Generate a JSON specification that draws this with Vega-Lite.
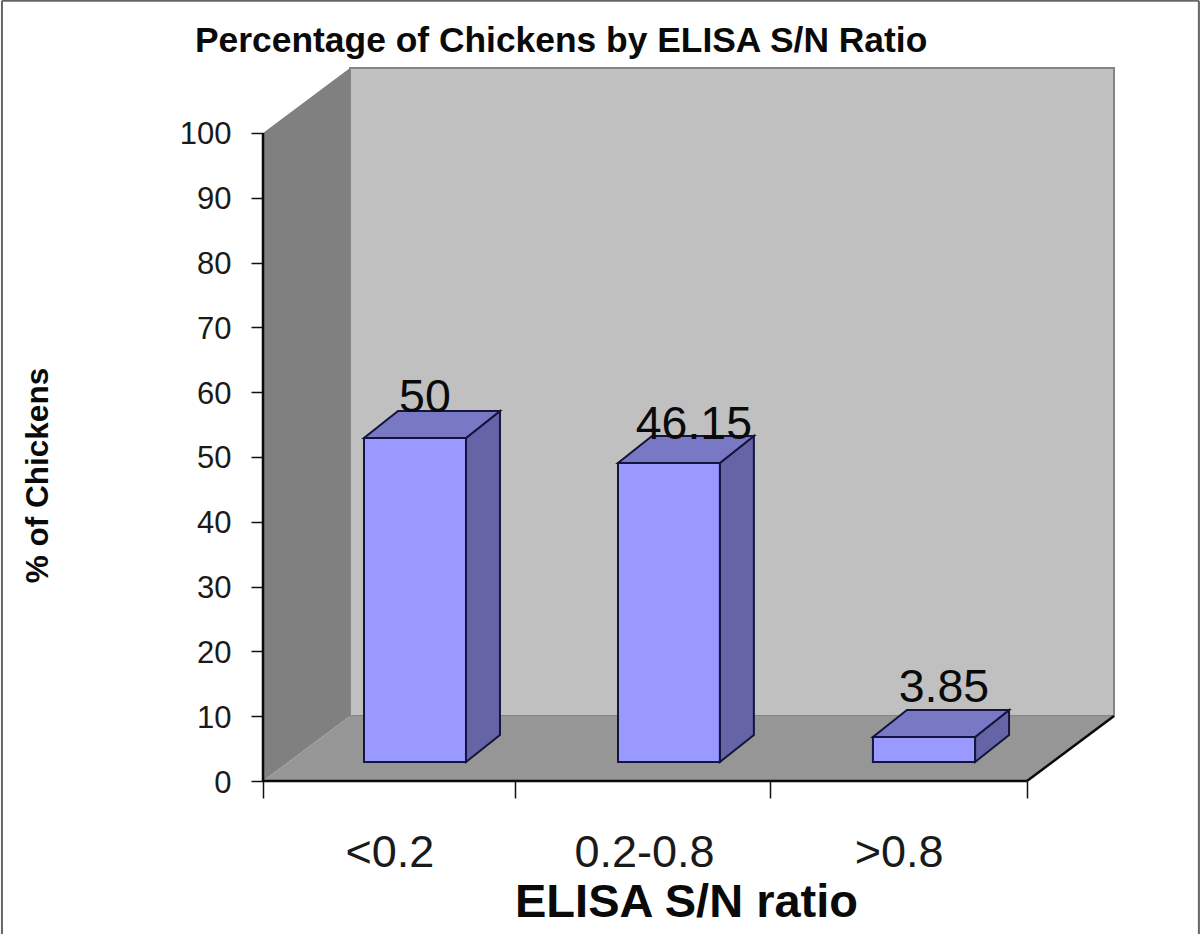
{
"$schema":"https://vega.github.io/schema/vega-lite/v6.json",
"width":851,"height":713,
"autosize":{"type":"none"},
"padding":{"left":263,"top":68,"right":86,"bottom":153},
"background":"white",
"config":{"view":{"stroke":null},"font":"Liberation Sans"},
"title":{"text":"Percentage of Chickens by ELISA S/N Ratio","anchor":"start","frame":"group","dx":-68,"offset":-60,"fontSize":35.4,"fontWeight":"bold","font":"Liberation Sans","color":"#0a0a0a"},
"datasets":{
"bars":[
{"label":"<0.2","value":50,"x":0.3966,"x2":0.797,"base":2.93,"top":52.93,"labelX":0.636,"labelY":56.9},
{"label":"0.2-0.8","value":46.15,"x":1.394,"x2":1.794,"base":2.93,"top":49.08,"labelX":1.692,"labelY":52.8},
{"label":">0.8","value":3.85,"x":2.395,"x2":2.796,"base":2.93,"top":6.78,"labelX":2.674,"labelY":12.2}],
"topFaces":[
{"bar":"<0.2","y":52.93,"x":0.3966,"x2":0.797},{"bar":"<0.2","y":57.1,"x":0.5301,"x2":0.9305},
{"bar":"0.2-0.8","y":49.08,"x":1.394,"x2":1.794},{"bar":"0.2-0.8","y":53.25,"x":1.5275,"x2":1.9275},
{"bar":">0.8","y":6.78,"x":2.395,"x2":2.796},{"bar":">0.8","y":10.95,"x":2.5285,"x2":2.9295}],
"sideFaces":[
{"bar":"<0.2","x":0.797,"y":2.93,"y2":52.93},{"bar":"<0.2","x":0.9305,"y":7.1,"y2":57.1},
{"bar":"0.2-0.8","x":1.794,"y":2.93,"y2":49.08},{"bar":"0.2-0.8","x":1.9275,"y":7.1,"y2":53.25},
{"bar":">0.8","x":2.796,"y":2.93,"y2":6.78},{"bar":">0.8","x":2.9295,"y":7.1,"y2":10.95}],
"backWall":[{"x":0.3416,"x2":3.3416,"y":10.03,"y2":110.03}],
"leftWall":[{"x":0,"y":0,"y2":100},{"x":0.3416,"y":10.03,"y2":110.03}],
"floor":[{"y":0,"x":0,"x2":3},{"y":10.03,"x":0.3416,"x2":3.3416}],
"axisLines":[{"x":0,"x2":0,"y":0,"y2":100},{"x":0,"x2":3,"y":0,"y2":0},{"x":3,"x2":3.3416,"y":0,"y2":10.03}],
"frame":[{"x":-1.025,"x2":-1.025,"y":120.4,"y2":-23.6},{"x":3.675,"x2":3.675,"y":120.4,"y2":-23.6},{"x":-1.025,"x2":3.675,"y":120.4,"y2":120.4}],
"categories":[{"pos":0.5,"label":"<0.2"},{"pos":1.5,"label":"0.2-0.8"},{"pos":2.5,"label":">0.8"}]
},
"layer":[
{"data":{"name":"backWall"},"mark":{"type":"rect","fill":"#c0c0c0","stroke":"#858585","strokeWidth":2},
 "encoding":{
  "x":{"field":"x","type":"quantitative","scale":{"domain":[0,3.3416],"nice":false,"zero":false},
   "axis":{"orient":"bottom","values":[0,0.99,1.99,3],"labels":false,"title":null,"domain":false,"grid":false,"tickColor":"#111111","tickWidth":1.5,"tickSize":17}},
  "x2":{"field":"x2"},
  "y":{"field":"y","type":"quantitative","scale":{"domain":[0,110.03],"nice":false,"zero":false},
   "axis":{"orient":"left","values":[0,10,20,30,40,50,60,70,80,90,100],"title":"% of Chickens","titleFontSize":31.5,"titleFontWeight":"bold","titleColor":"#0a0a0a","titleX":-209,"titleY":407,"titleAngle":-90,"titleFont":"Liberation Sans",
    "domain":false,"grid":false,"tickColor":"#111111","tickWidth":1.5,"tickSize":12,"labelPadding":20,"labelFontSize":31,"labelColor":"#1a1a1a","labelFont":"Liberation Sans","labelOffset":2}},
  "y2":{"field":"y2"}}},
{"data":{"name":"categories"},"mark":{"type":"point","opacity":0},
 "encoding":{
  "x":{"field":"pos","type":"quantitative",
   "axis":{"orient":"bottom","values":[0.5,1.5,2.5],"labelExpr":"datum.value==0.5?'<0.2':datum.value==1.5?'0.2-0.8':'>0.8'","ticks":false,"domain":false,"grid":false,"labelPadding":85,"labelFontSize":45,"labelColor":"#1a1a1a","labelFont":"Liberation Sans","labelBaseline":"alphabetic","labelOffset":-1,"title":"ELISA S/N ratio","titleFontSize":47,"titleFontWeight":"bold","titleColor":"#0a0a0a","titleFont":"Liberation Sans","titleX":423,"titleY":135,"titleBaseline":"alphabetic"}}}},
{"data":{"name":"leftWall"},"mark":{"type":"area","fill":"#808080"},
 "encoding":{"x":{"field":"x","type":"quantitative","axis":null},"y":{"field":"y","type":"quantitative","axis":null},"y2":{"field":"y2"}}},
{"data":{"name":"floor"},"mark":{"type":"area","orient":"horizontal","fill":"#969696"},
 "encoding":{"y":{"field":"y","type":"quantitative","axis":null},"x":{"field":"x","type":"quantitative","axis":null},"x2":{"field":"x2"}}},
{"data":{"name":"sideFaces"},"mark":{"type":"area","fill":"#6464a6","stroke":"#14143c","strokeWidth":2},
 "encoding":{"detail":{"field":"bar"},"x":{"field":"x","type":"quantitative","axis":null},"y":{"field":"y","type":"quantitative","axis":null},"y2":{"field":"y2"}}},
{"data":{"name":"topFaces"},"mark":{"type":"area","orient":"horizontal","fill":"#7878c4","stroke":"#14143c","strokeWidth":2},
 "encoding":{"detail":{"field":"bar"},"y":{"field":"y","type":"quantitative","axis":null},"x":{"field":"x","type":"quantitative","axis":null},"x2":{"field":"x2"}}},
{"data":{"name":"bars"},"mark":{"type":"rect","fill":"#9999ff","stroke":"#14143c","strokeWidth":2},
 "encoding":{"x":{"field":"x","type":"quantitative","axis":null},"x2":{"field":"x2"},"y":{"field":"top","type":"quantitative","axis":null},"y2":{"field":"base"}}},
{"data":{"name":"bars"},"mark":{"type":"text","font":"Liberation Sans","fontSize":46.5,"baseline":"alphabetic","align":"center","color":"#0a0a0a"},
 "encoding":{"x":{"field":"labelX","type":"quantitative","axis":null},"y":{"field":"labelY","type":"quantitative","axis":null},"text":{"field":"value","type":"nominal"}}},
{"data":{"name":"axisLines"},"mark":{"type":"rule","color":"#0a0a0a","strokeWidth":2.5},
 "encoding":{"x":{"field":"x","type":"quantitative","axis":null},"x2":{"field":"x2"},"y":{"field":"y","type":"quantitative","axis":null},"y2":{"field":"y2"}}},
{"data":{"name":"frame"},"mark":{"type":"rule","color":"#666666","strokeWidth":2},
 "encoding":{"x":{"field":"x","type":"quantitative","axis":null},"x2":{"field":"x2"},"y":{"field":"y","type":"quantitative","axis":null},"y2":{"field":"y2"}}}
],
"resolve":{"axis":{"x":"independent","y":"independent"}}
}
